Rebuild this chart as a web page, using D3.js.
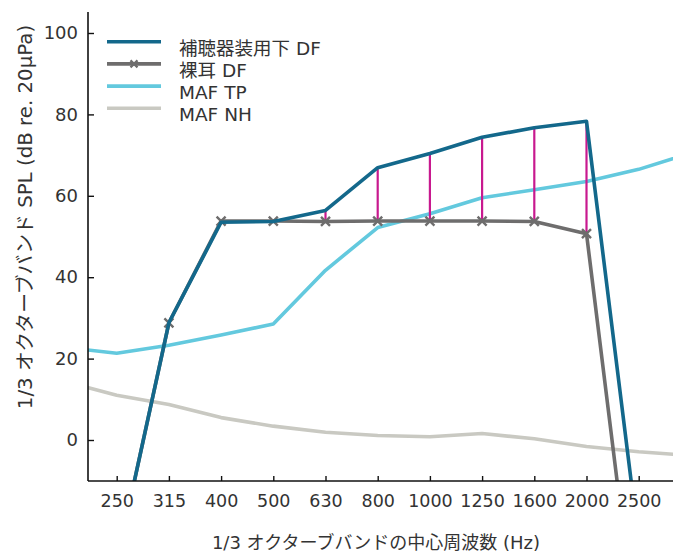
<!DOCTYPE html>
<html>
<head>
<meta charset="utf-8">
<script src="https://cdn.jsdelivr.net/npm/d3@7"></script>
<style>
  html, body { margin: 0; padding: 0; background: #fff; }
  svg { display: block; }
  text { font-family: "DejaVu Sans", "Noto Sans CJK JP", sans-serif; fill: #333; }
</style>
</head>
<body>
<div id="chart"></div>
<script>
// 1/3 octave band centre frequencies (Hz); first and last are off-plot, lines run out to them
const bands = [200, 250, 315, 400, 500, 630, 800, 1000, 1250, 1600, 2000, 2500, 3150];
const tickLabels = ["250", "315", "400", "500", "630", "800", "1000", "1250", "1600", "2000", "2500"];
const yTicks = [0, 20, 40, 60, 80, 100];

const seriesNames = ["補聴器装用下 DF", "裸耳 DF", "MAF TP", "MAF NH"];
const aidedDF   = [null, -30, 28.8, 53.5, 53.7, 56.4, 66.9, 70.4, 74.4, 76.7, 78.3, -25, null];
const unaidedDF = [null, -30, 28.8, 53.8, 53.8, 53.7, 53.8, 53.8, 53.8, 53.7, 50.7, -53, null];
const mafTP     = [22.8, 21.3, 23.3, 25.8, 28.5, 41.7, 52.2, 55.6, 59.5, 61.5, 63.5, 66.5, 70.5];
const mafNH     = [14.4, 11.0, 8.7, 5.5, 3.4, 1.9, 1.1, 0.8, 1.6, 0.3, -1.6, -2.9, -3.8];

const colors = { aided: "#13688b", unaided: "#6e6d6d", tp: "#63c9de", nh: "#c9c9c2", gain: "#c8198f" };

const W = 673, H = 555;
const plot = { left: 88, right: 673, top: 12, bottom: 481 };

const svg = d3.select("#chart").append("svg").attr("width", W).attr("height", H);

// x: equal spacing per 1/3-octave band (index scale)
const x = d3.scaleLinear().domain([0, bands.length - 1]).range([64.5, 64.5 + 52.2 * (bands.length - 1)]);
const y = d3.scaleLinear().domain([0, 100]).range([440, 33]);

svg.append("clipPath").attr("id", "clip").append("rect")
  .attr("x", plot.left).attr("y", plot.top)
  .attr("width", plot.right - plot.left).attr("height", plot.bottom - plot.top);

const g = svg.append("g").attr("clip-path", "url(#clip)");

const line = d3.line()
  .defined(d => d != null)
  .x((d, i) => x(i))
  .y(d => y(d));

const lineW = 3.6;

g.append("path").attr("d", line(mafNH)).attr("fill", "none")
  .attr("stroke", colors.nh).attr("stroke-width", lineW).attr("stroke-linejoin", "round");
g.append("path").attr("d", line(mafTP)).attr("fill", "none")
  .attr("stroke", colors.tp).attr("stroke-width", lineW).attr("stroke-linejoin", "round");

// gain lines (magenta) where aided exceeds unaided
const gainIdx = d3.range(bands.length).filter(i =>
  aidedDF[i] != null && unaidedDF[i] != null && aidedDF[i] - unaidedDF[i] > 1 && aidedDF[i] > 0);
g.selectAll("line.gain").data(gainIdx).enter().append("line")
  .attr("class", "gain")
  .attr("x1", i => x(i)).attr("x2", i => x(i))
  .attr("y1", i => y(unaidedDF[i])).attr("y2", i => y(aidedDF[i]))
  .attr("stroke", colors.gain).attr("stroke-width", 2.2);

g.append("path").attr("d", line(unaidedDF)).attr("fill", "none")
  .attr("stroke", colors.unaided).attr("stroke-width", lineW).attr("stroke-linejoin", "round");

// x markers on unaided
const markerIdx = d3.range(bands.length).filter(i => unaidedDF[i] != null);
const ms = 4.5;
g.selectAll("path.mark").data(markerIdx).enter().append("path")
  .attr("class", "mark")
  .attr("d", i => {
    const cx = x(i), cy = y(unaidedDF[i]);
    return `M${cx - ms},${cy - ms}L${cx + ms},${cy + ms}M${cx - ms},${cy + ms}L${cx + ms},${cy - ms}`;
  })
  .attr("stroke", colors.unaided).attr("stroke-width", 2.4).attr("fill", "none");

g.append("path").attr("d", line(aidedDF)).attr("fill", "none")
  .attr("stroke", colors.aided).attr("stroke-width", lineW).attr("stroke-linejoin", "round");

// axes
const yAxis = d3.axisLeft(y).tickValues(yTicks).tickSize(-6).tickPadding(10).tickFormat(d3.format("d"));
const yg = svg.append("g").attr("transform", `translate(${plot.left},0)`).call(yAxis);
yg.select(".domain").remove();
yg.append("line").attr("x1", 0).attr("x2", 0).attr("y1", plot.top).attr("y2", plot.bottom)
  .attr("stroke", "#111").attr("stroke-width", 1.6);
yg.selectAll(".tick line").attr("stroke", "#111").attr("stroke-width", 1.4);
yg.selectAll(".tick text").style("font-size", "18px").attr("fill", "#333");

const xAxis = d3.axisBottom(x)
  .tickValues(tickLabels.map(t => bands.indexOf(+t)))
  .tickFormat(i => tickLabels[tickLabels.indexOf(String(bands[i]))])
  .tickSize(-5).tickPadding(14);
const xg = svg.append("g").attr("transform", `translate(0,${plot.bottom})`).call(xAxis);
xg.select(".domain").remove();
xg.append("line").attr("x1", plot.left).attr("x2", plot.right).attr("y1", 0).attr("y2", 0)
  .attr("stroke", "#111").attr("stroke-width", 1.6);
xg.selectAll(".tick line").attr("stroke", "#111").attr("stroke-width", 1.4);
xg.selectAll(".tick text").style("font-size", "17.5px").attr("fill", "#333");

// axis titles
svg.append("text").attr("x", 376).attr("y", 549).attr("text-anchor", "middle")
  .style("font-size", "18px").text("1/3 オクターブバンドの中心周波数 (Hz)");
svg.append("text").attr("transform", "translate(32,217) rotate(-90)").attr("text-anchor", "middle")
  .style("font-size", "19.8px").text("1/3 オクターブバンド SPL (dB re. 20μPa)");

// legend
const legendKeys = [
  { c: colors.aided, m: false },
  { c: colors.unaided, m: true },
  { c: colors.tp, m: false },
  { c: colors.nh, m: false }
];
const lg = svg.append("g");
legendKeys.forEach((k, i) => {
  const ly = 41.7 + i * 22.2;
  lg.append("line").attr("x1", 107).attr("x2", 161).attr("y1", ly).attr("y2", ly)
    .attr("stroke", k.c).attr("stroke-width", lineW);
  if (k.m) {
    const cx = 134, s = 3.5;
    lg.append("path").attr("d", `M${cx - s},${ly - s}L${cx + s},${ly + s}M${cx - s},${ly + s}L${cx + s},${ly - s}`)
      .attr("stroke", k.c).attr("stroke-width", 2.2);
  }
  lg.append("text").attr("x", 179).attr("y", ly + 13).style("font-size", "18.5px").text(seriesNames[i]);
});
</script>
</body>
</html>
